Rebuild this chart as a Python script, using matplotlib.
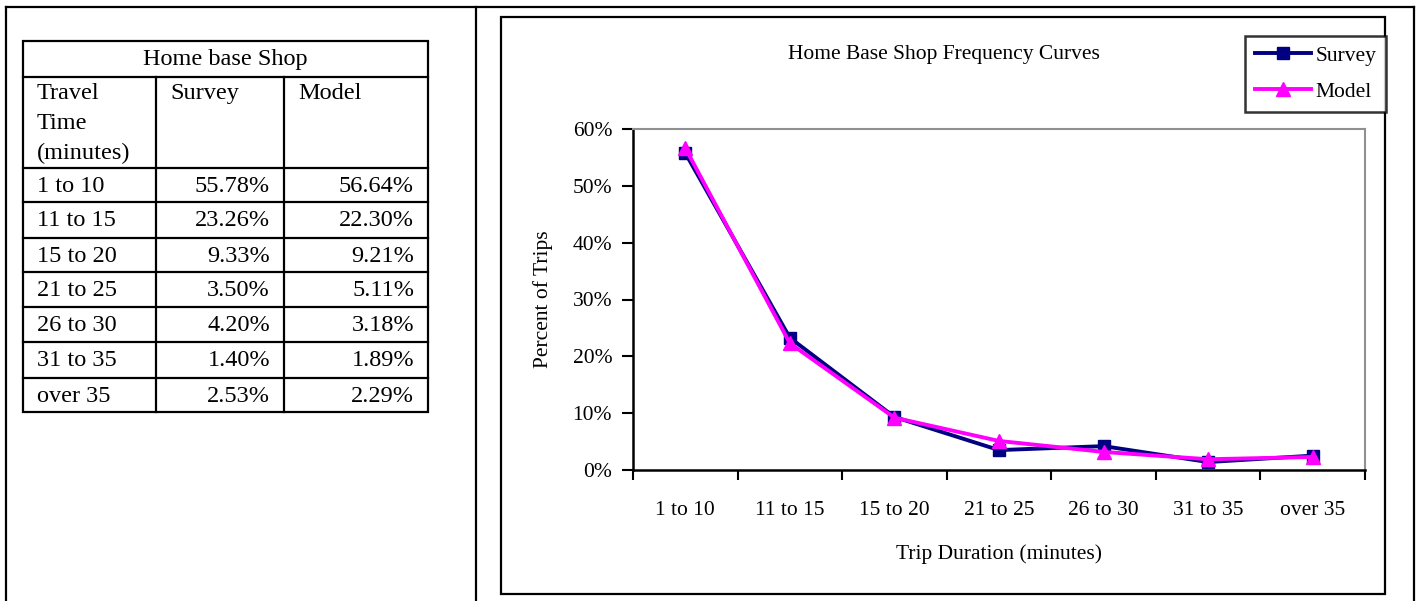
import matplotlib
matplotlib.use("Agg")
import matplotlib.pyplot as plt
from matplotlib.patches import Rectangle
from matplotlib.ticker import PercentFormatter, FixedLocator
import numpy as np

plt.rcParams['font.family'] = ['Liberation Serif', 'DejaVu Serif']

categories = ["1 to 10", "11 to 15", "15 to 20", "21 to 25", "26 to 30", "31 to 35", "over 35"]
survey = [55.78, 23.26, 9.33, 3.50, 4.20, 1.40, 2.53]
model = [56.64, 22.30, 9.21, 5.11, 3.18, 1.89, 2.29]
table_title = "Home base Shop"
table_headers = ["Travel\nTime\n(minutes)", "Survey", "Model"]
chart_title = "Home Base Shop Frequency Curves"
x_label = "Trip Duration (minutes)"
y_label = "Percent of Trips"

W, H = 1416, 601
fig = plt.figure(figsize=(W / 100, H / 100), dpi=100)

# background overlay in pixel coordinates
bg = fig.add_axes([0, 0, 1, 1], zorder=0)
bg.set_xlim(0, W)
bg.set_ylim(H, 0)
bg.axis('off')

lw = 1.6
# outer page frame
bg.plot([6, 1414], [6.5, 6.5], color='black', lw=lw)
bg.plot([6, 6], [6.5, H], color='black', lw=lw)
bg.plot([476, 476], [6.5, H], color='black', lw=lw)
bg.plot([1414, 1414], [6.5, H], color='black', lw=lw)

# chart frame
bg.add_patch(Rectangle((501, 17), 884, 577, fill=False, edgecolor='black', lw=lw))

# table
tx0, tx1 = 23, 428
col_x = [23, 156, 284, 428]
row_y = [40.5, 76.5, 168, 202, 238, 272, 307, 342, 378, 412]
bg.add_patch(Rectangle((tx0, row_y[0]), tx1 - tx0, row_y[-1] - row_y[0],
                       fill=False, edgecolor='black', lw=lw))
for y in row_y[1:-1]:
    bg.plot([tx0, tx1], [y, y], color='black', lw=lw)
for x in col_x[1:-1]:
    bg.plot([x, x], [row_y[1], row_y[-1]], color='black', lw=lw)

fs_t = 17.5
bg.text((tx0 + tx1) / 2, (row_y[0] + row_y[1]) / 2 + 1, table_title, ha='center', va='center', fontsize=fs_t)
for k, line in enumerate(table_headers[0].split("\n")):
    bg.text(col_x[0] + 14, row_y[1] + 17 + 30 * k, line, ha='left', va='center', fontsize=fs_t)
bg.text(col_x[1] + 14, row_y[1] + 17, table_headers[1], ha='left', va='center', fontsize=fs_t)
bg.text(col_x[2] + 14, row_y[1] + 17, table_headers[2], ha='left', va='center', fontsize=fs_t)
for i, cat in enumerate(categories):
    yc = (row_y[i + 2] + row_y[i + 3]) / 2 + 1
    bg.text(col_x[0] + 14, yc, cat, ha='left', va='center', fontsize=fs_t)
    bg.text(col_x[2] - 14, yc, f"{survey[i]:.2f}%", ha='right', va='center', fontsize=fs_t)
    bg.text(col_x[3] - 14, yc, f"{model[i]:.2f}%", ha='right', va='center', fontsize=fs_t)

# chart axes
L, R, T, B = 633, 1365, 129, 470
ax = fig.add_axes([L / W, 1 - B / H, (R - L) / W, (B - T) / H], zorder=2)
x = np.arange(len(categories))
ax.plot(x, np.array(survey) / 100, color='#000080', lw=2.8, marker='s', markersize=8,
        label='Survey', zorder=3)
ax.plot(x, np.array(model) / 100, color='#FF00FF', lw=2.8, marker='^', markersize=10,
        label='Model', zorder=4)
ax.set_xlim(-0.5, len(categories) - 0.5)
ax.set_ylim(0, 0.6)
ax.yaxis.set_major_locator(FixedLocator(np.arange(0, 0.61, 0.1)))
ax.yaxis.set_major_formatter(PercentFormatter(1.0, decimals=0))
ax.xaxis.set_major_locator(FixedLocator(np.arange(-0.5, len(categories), 1.0)))
ax.xaxis.set_minor_locator(FixedLocator(x))
ax.set_xticklabels([], minor=False)
ax.set_xticklabels(categories, minor=True)
ax.tick_params(axis='x', which='major', direction='out', length=7, width=1.5, labelbottom=False)
ax.tick_params(axis='x', which='minor', length=0, pad=22, labelsize=15.5)
ax.tick_params(axis='y', direction='out', length=8, width=1.5, pad=7, labelsize=15.5)
for s in ['left', 'bottom']:
    ax.spines[s].set_color('black')
    ax.spines[s].set_linewidth(1.8)
for s in ['top', 'right']:
    ax.spines[s].set_color('#909090')
    ax.spines[s].set_linewidth(1.5)
ax.set_xlabel(x_label, fontsize=15.5, labelpad=18)
ax.set_ylabel(y_label, fontsize=15.5, labelpad=14)

fig.text(944 / W, 1 - 54 / H, chart_title, ha='center', va='center', fontsize=15.5)

leg = ax.legend(loc='upper right', bbox_to_anchor=(1386 / W, 1 - 36 / H), bbox_transform=fig.transFigure,
                fontsize=15.5, frameon=True, fancybox=False, borderpad=0.45, handlelength=2.6,
                handletextpad=0.2, labelspacing=0.75, borderaxespad=0)
leg.get_frame().set_edgecolor('black')
leg.get_frame().set_linewidth(1.8)
leg.set_zorder(10)

fig.savefig('out.png', dpi=100)
